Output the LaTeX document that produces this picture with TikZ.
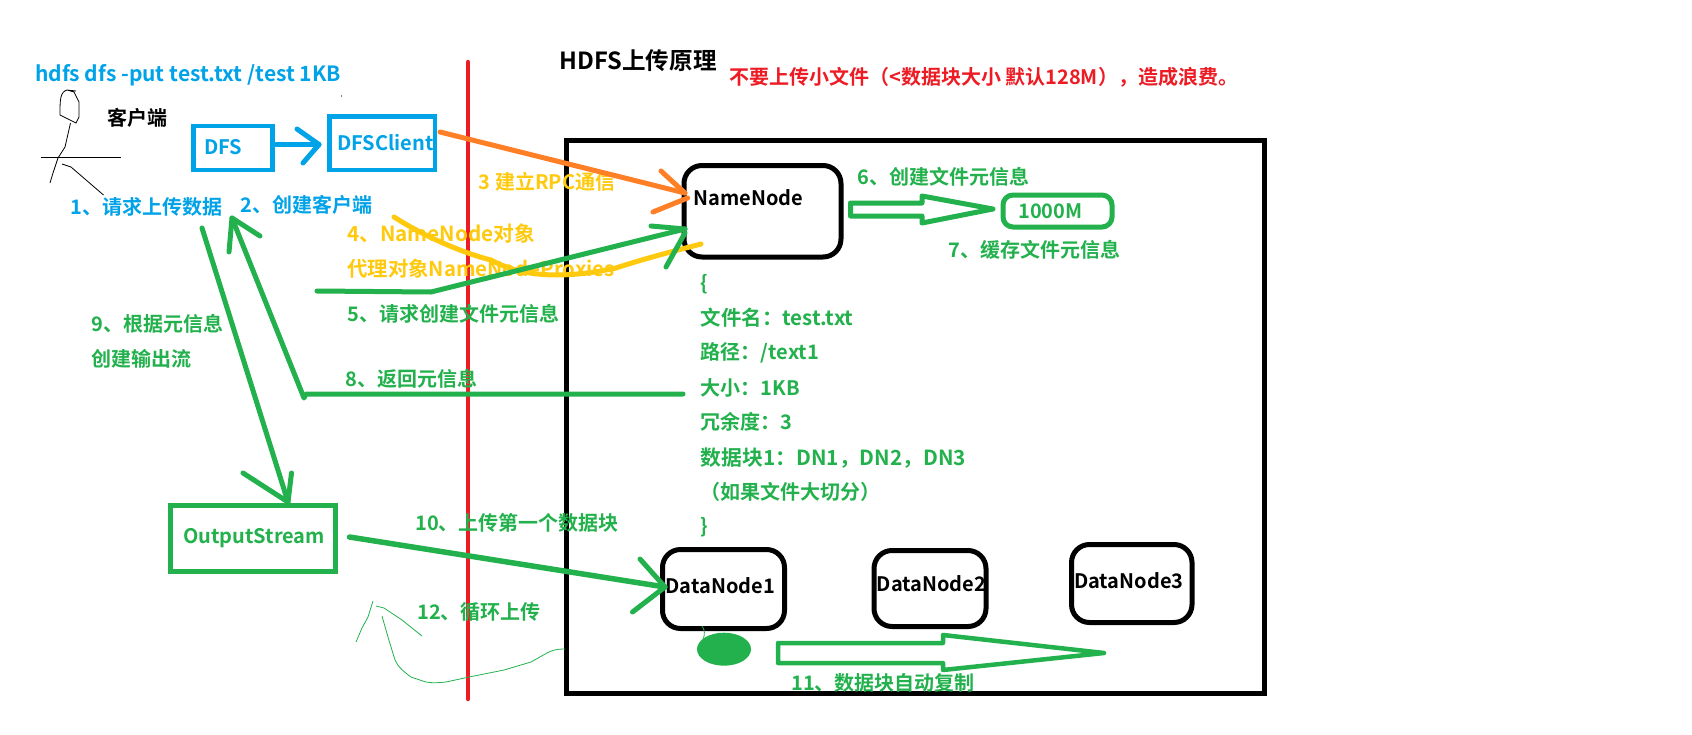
\documentclass[tikz,border=0pt]{standalone}
\usepackage{fontspec}
\setmainfont{Noto Sans CJK SC}[BoldFont={Noto Sans CJK SC Bold}]
\usetikzlibrary{calc}
\definecolor{pblue}{HTML}{00A2E8}
\definecolor{pgreen}{HTML}{22B14C}
\definecolor{porange}{HTML}{FF7F27}
\definecolor{pyellow}{HTML}{FFC90E}
\definecolor{pred}{HTML}{ED1C24}
\tikzset{
  fs/.style={font=\fontsize{#1}{#1}\selectfont\bfseries},
  lbl/.style={anchor=west,inner sep=0pt,fs=20},
  pen/.style={line width=#1,line cap=round,line join=round},
  sqbox/.style={draw=#1,line width=4.5pt,rectangle,inner sep=0pt,outer sep=0pt,anchor=north west},
  rbox/.style={draw=black,line width=5pt,rectangle,rounded corners=18pt,inner sep=0pt,outer sep=0pt,anchor=north west},
}
\begin{document}
\begin{tikzpicture}[x=1pt,y=-1pt]
\useasboundingbox (0,0) rectangle (1692,734);
\fill[white] (0,0) rectangle (1692,734);
% divider and frame
\coordinate (redtop) at (468,62); \coordinate (redbot) at (468,699);
\draw[pred,pen=4.5pt] (redtop) -- (redbot);
\node[draw=black,line width=5pt,rectangle,inner sep=0pt,outer sep=0pt,anchor=north west,minimum width=698pt,minimum height=553pt] (frame) at (566,140) {};
% boxes
\node[sqbox=pblue,minimum width=79pt,minimum height=44pt] (dfs) at (193.5,126) {};
\node[sqbox=pblue,minimum width=105.5pt,minimum height=53.5pt] (client) at (329.5,116.5) {};
\node[sqbox=pgreen,line width=5pt,minimum width=165pt,minimum height=66pt] (out) at (170.5,505.5) {};
\node[rbox,minimum width=157pt,minimum height=91.5pt] (nn) at (684,165.5) {};
\node[rbox,minimum width=122pt,minimum height=79pt] (dn1) at (662.5,549.5) {};
\node[rbox,minimum width=112pt,minimum height=76pt] (dn2) at (874,550.5) {};
\node[rbox,minimum width=120.5pt,minimum height=78pt] (dn3) at (1071.5,544.5) {};
\node[draw=pgreen,line width=5pt,rectangle,rounded corners=10pt,inner sep=0pt,outer sep=0pt,anchor=north west,minimum width=109pt,minimum height=32pt] (cache) at (1003,195) {};
% texts
\node[lbl,fs=21,text=pblue] (cmd) at (35,75) {hdfs dfs -put test.txt /test 1KB};
\node[lbl,text=black] (ck) at (107,118) {客户端};
\node[lbl,text=pblue] (t1) at (70.5,207) {1、请求上传数据};
\node[lbl,text=pblue] (t2) at (240,205) {2、创建客户端};
\node[lbl,text=pblue] (tdfs) at (204,147) {DFS};
\node[lbl,text=pblue] (tclient) at (337,143) {DFSClient};
\node[lbl,text=pyellow] (t3) at (478.5,182) {3 建立RPC通信};
\node[lbl,fs=20.7,text=pyellow] (t4) at (347,234) {4、NameNode对象};
\node[lbl,fs=20.4,text=pyellow] (t4b) at (347,269) {代理对象NameNodeProxies};
\node[lbl,text=pgreen] (t5) at (347,314) {5、请求创建文件元信息};
\node[lbl,text=pgreen] (t9) at (91.5,324) {9、根据元信息};
\node[lbl,text=pgreen] (t9b) at (91.5,359) {创建输出流};
\node[lbl,text=pgreen] (t8) at (345,379) {8、返回元信息};
\node[lbl,text=pgreen] (tout) at (183,538) {OutputStream};
\node[lbl,text=pgreen] (t10) at (415,523) {10、上传第一个数据块};
\node[lbl,text=pgreen] (t12) at (417,612) {12、循环上传};
\node[lbl,fs=23.6,text=black] (title) at (559.6,61) {HDFS上传原理};
\node[lbl,text=pred] (warn) at (729,77) {不要上传小文件（<数据块大小 默认128M），造成浪费。};
\node[lbl,text=black] (tnn) at (693.5,198) {NameNode};
\node[lbl,text=pgreen] (t6) at (857.6,177) {6、创建文件元信息};
\node[lbl,text=pgreen] (t1000) at (1018,211) {1000M};
\node[lbl,text=pgreen] (t7) at (948,250) {7、缓存文件元信息};
\node[lbl,text=pgreen] (m0) at (700.7,284) {\{};
\node[lbl,fs=20.4,text=pgreen] (m1) at (700.7,318) {文件名：test.txt};
\node[lbl,text=pgreen] (m2) at (700.7,353) {路径：/text1};
\node[lbl,text=pgreen] (m3) at (700.7,388) {大小：1KB};
\node[lbl,text=pgreen] (m4) at (700.7,422) {冗余度：3};
\node[lbl,fs=20.8,text=pgreen] (m5) at (700.7,458) {数据块1：DN1，DN2，DN3};
\node[lbl,text=pgreen] (m6) at (700.7,492) {（如果文件大切分）};
\node[lbl,text=pgreen] (m7) at (700.7,527) {\}};
\node[lbl,text=black] (tdn1) at (665.5,586) {DataNode1};
\node[lbl,text=black] (tdn2) at (876.7,584) {DataNode2};
\node[lbl,text=black] (tdn3) at (1074,581) {DataNode3};
\node[lbl,text=pgreen] (t11) at (791,683) {11、数据块自动复制};
% stick figure
\draw[black,line width=.8pt] (67,90) .. controls (60,92) and (60,100) .. (60,115) -- (76,123) -- (79,117) -- (79,102) -- (74,92) -- (67,90) -- (76,91);
\draw[black,line width=.8pt] (70.5,123) -- (65,147) -- (58,158) -- (53,173) -- (50,183);
\draw[black,line width=.8pt] (41,157) -- (120.5,157);
\draw[black,line width=.8pt] (62,164) -- (71,167) -- (103.5,195);
\fill[black] (341.5,96) circle (.7pt);
% coordinates for connector ends
\coordinate (a0) at (276,144.5); \coordinate (a1) at (319,144.5);
\coordinate (o0) at (440,132); \coordinate (o1) at (685,193);
\coordinate (g5a) at (317,291); \coordinate (g5b) at (431,292); \coordinate (g5c) at (685,229);
\coordinate (g9a) at (202,228); \coordinate (g9b) at (288,502);
\coordinate (g8a) at (683,394); \coordinate (g8b) at (306,394); \coordinate (g8c) at (304,398); \coordinate (g8d) at (232,218);
\coordinate (g10a) at (349.5,537); \coordinate (g10b) at (665,587);
% blue arrow
\draw[pblue,pen=5pt] (a0) -- (a1);
\draw[pblue,pen=5pt] (297,129) -- (a1) -- (303,163);
% orange
\draw[porange,pen=5pt] (o0) -- (o1);
\draw[porange,pen=5pt] (661,171) -- (o1);
\draw[porange,pen=5pt] (687.5,198) -- (653,212);
% yellow
\draw[pyellow,pen=5pt] (394,217) .. controls (430,240) and (470,255) .. (491,260) .. controls (520,276) and (560,280) .. (616,268) .. controls (640,260) and (670,252) .. (701,244);
% green 5
\draw[pgreen,pen=5pt] (g5a) -- (g5b) -- (g5c);
\draw[pgreen,pen=5pt] (651,226) -- (g5c);
\draw[pgreen,pen=5pt] (685,233) -- (666,267);
% green 9
\draw[pgreen,pen=5pt] (g9a) -- (g9b);
\draw[pgreen,pen=5pt] (243,473) -- (g9b) -- (291.5,473);
% green 8
\draw[pgreen,pen=5pt] (g8a) -- (g8b) -- (g8c) -- (g8d);
\draw[pgreen,pen=5pt] (229,252) -- (g8d) -- (260,236);
% green 10
\draw[pgreen,pen=5.5pt] (g10a) -- (g10b);
\draw[pgreen,pen=5pt] (640,559) -- (g10b) -- (632.5,612);
% hollow arrows
\draw[pgreen,line width=5pt,line join=round] (850.5,203) -- (922,203) -- (922,196) -- (993,209) -- (922,223) -- (922,216) -- (850.5,216) -- cycle;
\draw[pgreen,line width=4.5pt,line join=round] (778,643) -- (943,643) -- (943,635) -- (1104,653) -- (943,670) -- (943,663) -- (778,663) -- cycle;
% thin loop
\draw[pgreen,line width=.8pt] (702,626) .. controls (705,630) and (705,634) .. (703,640);
\fill[pgreen] (724,649.2) ellipse (27pt and 16.5pt);
\draw[pgreen,line width=.8pt] (565,649) .. controls (555,649) and (551,651) .. (547,653) -- (531,662) -- (504,670) -- (469,677) -- (446,682) .. controls (436,683) and (431,683) .. (426,682) -- (411,677) .. controls (403,671) and (398,667) .. (395,660) -- (388,637) -- (382,616);
\draw[pgreen,line width=.8pt] (422,636) -- (402,620) -- (384,608) -- (376,606);
\draw[pgreen,line width=.8pt] (373,601) -- (368,617) -- (362,628) -- (356,642);
\end{tikzpicture}
\end{document}
